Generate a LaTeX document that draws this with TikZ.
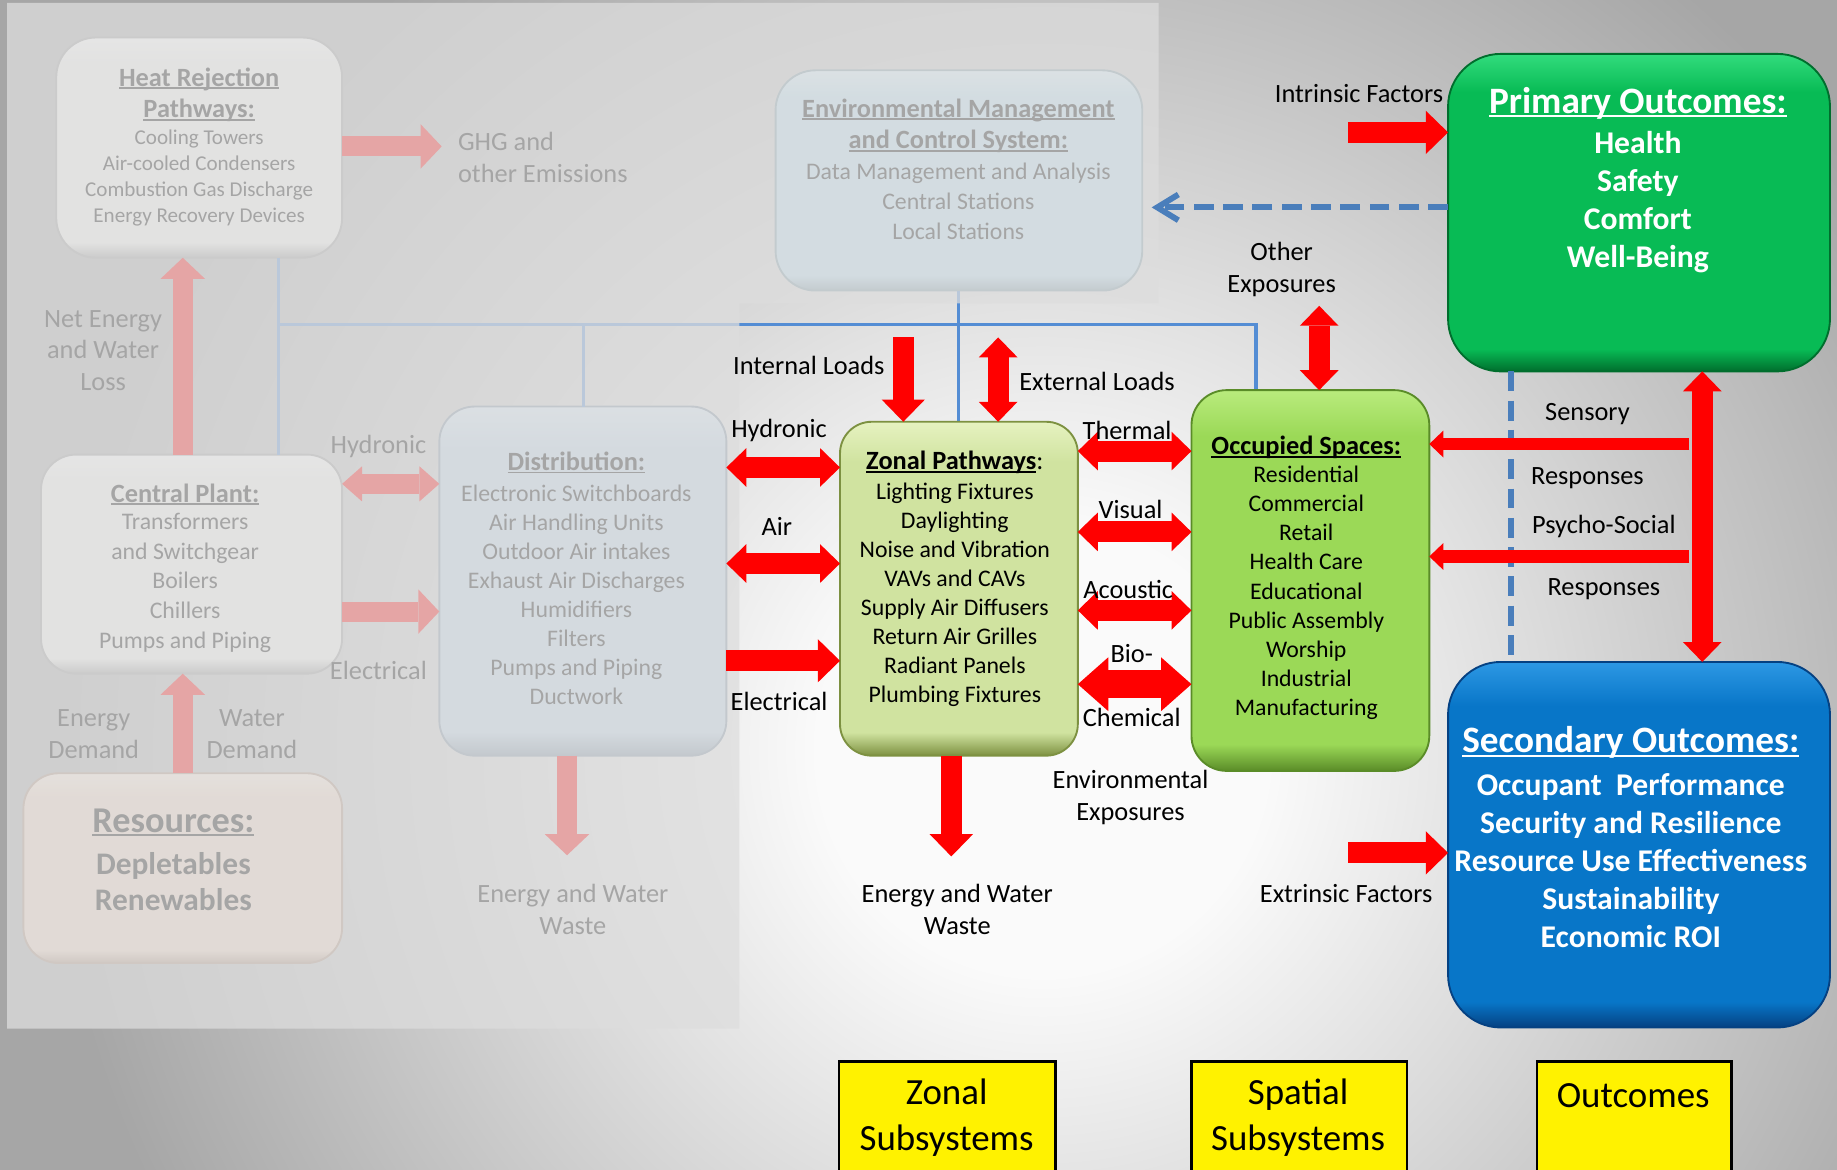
\documentclass[tikz,border=0pt]{standalone}
\usepackage{fontspec}
\setmainfont{Carlito}
\usetikzlibrary{arrows.meta}
\pgfdeclarelayer{bglayer}
\pgfdeclarelayer{fadelayer}
\pgfdeclarelayer{veillayer}
\pgfsetlayers{bglayer,fadelayer,veillayer,main}

\definecolor{redA}{RGB}{255,0,0}
\definecolor{blueL}{RGB}{84,141,212}
\definecolor{blueD}{RGB}{74,126,187}
\definecolor{ovl}{RGB}{221,221,221}
\definecolor{bgcA}{RGB}{250,250,250}
\definecolor{bgcB}{RGB}{166,166,166}
\definecolor{zonBase}{RGB}{208,227,160}
\definecolor{zonTop}{RGB}{230,242,192}
\definecolor{zonRim}{RGB}{125,145,65}
\definecolor{occBase}{RGB}{155,217,87}
\definecolor{occTop}{RGB}{185,235,125}
\definecolor{occRim}{RGB}{90,140,40}
\definecolor{priBase}{RGB}{8,187,85}
\definecolor{priTop}{RGB}{50,220,125}
\definecolor{priRim}{RGB}{0,110,45}
\definecolor{secBase}{RGB}{8,118,200}
\definecolor{secTop}{RGB}{45,152,228}
\definecolor{secRim}{RGB}{5,65,130}
\definecolor{grBase}{RGB}{242,242,238}
\definecolor{grTop}{RGB}{255,255,255}
\definecolor{grRim}{RGB}{150,150,150}
\definecolor{dsBase}{RGB}{188,212,232}
\definecolor{dsTop}{RGB}{215,232,246}
\definecolor{dsRim}{RGB}{120,140,160}
\definecolor{emBase}{RGB}{182,220,238}
\definecolor{emTop}{RGB}{215,238,250}
\definecolor{emRim}{RGB}{120,150,165}
\definecolor{rsBase}{RGB}{240,213,194}
\definecolor{rsTop}{RGB}{252,235,222}
\definecolor{rsRim}{RGB}{170,140,120}

\pgfdeclareradialshading{bgsh}{\pgfpoint{0bp}{0bp}}{color(0bp)=(bgcA); color(4bp)=(bgcA); color(17.7bp)=(bgcB); color(50bp)=(bgcB)}
\newcommand\mkbev[2]{\pgfdeclareverticalshading{#1}{100bp}{color(0bp)=(#2Rim); color(25bp)=(#2Rim); color(28.5bp)=(#2Base); color(69bp)=(#2Base); color(75bp)=(#2Top); color(100bp)=(#2Top)}}
\mkbev{shZon}{zon}
\mkbev{shOcc}{occ}
\mkbev{shPri}{pri}
\mkbev{shSec}{sec}
\mkbev{shGr}{gr}
\mkbev{shDs}{ds}
\mkbev{shEm}{em}
\mkbev{shRs}{rs}

\newcommand\fsLab{\fontsize{11.25pt}{13.5pt}\selectfont}
\newcommand\fsList{\fontsize{10.15pt}{12.4pt}\selectfont}
\newcommand\fsTtl{\fontsize{11.25pt}{13.5pt}\selectfont\bfseries}
\newcommand\fsSmall{\fontsize{9pt}{11pt}\selectfont}
\newcommand\fsOutT{\fontsize{15.9pt}{18pt}\selectfont\bfseries}
\newcommand\fsOutI{\fontsize{13.5pt}{16.3pt}\selectfont\bfseries}
\newcommand\fsYel{\fontsize{15.75pt}{19.5pt}\selectfont}
\newcommand\fsResT{\fontsize{15.5pt}{18pt}\selectfont\bfseries}
\newcommand\fsResI{\fontsize{13.4pt}{15.5pt}\selectfont\bfseries}
\newcommand\ulbox[1]{\setbox0\hbox{#1}\rlap{\rule[-0.11em]{\wd0}{0.065em}}\box0}

\begin{document}
\begin{tikzpicture}[x=0.5pt,y=-0.5pt,
  every node/.style={inner sep=0pt,outer sep=0pt},
  boxs/.style={rectangle, shade, line width=0.8pt},
  lab/.style={font=\fsLab, align=center, text=black},
  lst/.style={font=\fsList, align=center, text=black},
  ttl/.style={font=\fsTtl, align=center, text=black},
  wttl/.style={font=\fsOutT, align=center, text=white},
  witm/.style={font=\fsOutI, align=center, text=white},
  ylw/.style={rectangle, draw=black, fill=yellow, line width=1pt},
  yt/.style={font=\fsYel, align=center, text=black},
  rA/.style={draw=redA, line width=9pt, -{Triangle[length=9.5pt,width=18.5pt,line width=0pt]}},
  rD/.style={draw=redA, line width=9pt, {Triangle[length=8.5pt,width=16.5pt,line width=0pt]}-{Triangle[length=8.5pt,width=16.5pt,line width=0pt]}},
  rDb/.style={draw=redA, line width=12pt, {Triangle[length=13pt,width=23pt,line width=0pt]}-{Triangle[length=13pt,width=23pt,line width=0pt]}},
  rT/.style={draw=redA, line width=5.5pt, -{Triangle[length=6pt,width=11.5pt,line width=0pt]}},
  pA/.style={draw=redA, line width=8.5pt, -{Triangle[length=9pt,width=19pt,line width=0pt]}},
  pD/.style={draw=redA, line width=8.5pt, {Triangle[length=8.5pt,width=15pt,line width=0pt]}-{Triangle[length=8.5pt,width=15pt,line width=0pt]}},
  bln/.style={draw=blueL, line width=1.4pt},
  dsh/.style={draw=blueD, line width=2.5pt, dash pattern=on 8.5pt off 4pt}]

\useasboundingbox (0,0) rectangle (1568,998);

% ---------- background ----------
\begin{pgfonlayer}{bglayer}
\begin{scope}
\clip (0,0) rectangle (1568,998);
\shade[shading=bgsh] (890,640) circle (1200);
\end{scope}
\end{pgfonlayer}

% ---------- active part ----------
\node[boxs, shading=shZon, draw=zonRim, minimum width=101.5pt, minimum height=142.5pt, rounded corners=13.5pt] (zon) at (818.5,502.5) {};
\node[boxs, shading=shOcc, draw=occRim, minimum width=101.5pt, minimum height=162.5pt, rounded corners=15pt] (occ) at (1118.5,495.5) {};
\node[boxs, shading=shPri, draw=priRim, minimum width=163pt, minimum height=135.5pt, rounded corners=22.5pt] (prim) at (1399,181.5) {};
\node[boxs, shading=shSec, draw=secRim, minimum width=163pt, minimum height=156pt, rounded corners=22.5pt] (sec) at (1399,721) {};

\node[lab] (zonT) at (815,395) {{\bfseries\ulbox{Zonal Pathways}}:};
\node[lst] (zonL) at (815,507.5) {Lighting Fixtures\\Daylighting\\Noise and Vibration\\VAVs and CAVs\\Supply Air Diffusers\\Return Air Grilles\\Radiant Panels\\Plumbing Fixtures};
\node[ttl] (occT) at (1115,382) {\ulbox{Occupied Spaces:}};
\node[lst] (occL) at (1115,506) {Residential\\Commercial\\Retail\\Health Care\\Educational\\Public Assembly\\Worship\\Industrial\\Manufacturing};
\node[wttl] (priT) at (1398,88) {\ulbox{Primary Outcomes:}};
\node[witm] (priL) at (1398,172.5) {Health\\Safety\\Comfort\\Well-Being};
\node[wttl] (secT) at (1392,634) {\ulbox{Secondary Outcomes:}};
\node[witm] (secL) at (1392,734.5) {Occupant~~Performance\\Security and Resilience\\Resource Use Effectiveness\\Sustainability\\Economic ROI};

\node[ylw, minimum width=92.5pt, minimum height=52pt] (yz) at (808.5,958) {};
\node[ylw, minimum width=92pt, minimum height=52pt] (ys) at (1109,958) {};
\node[ylw, minimum width=83pt, minimum height=52pt] (yo) at (1395,958) {};
\node[yt] (yzT) at (808,954) {Zonal\\Subsystems};
\node[yt] (ysT) at (1108,954) {Spatial\\Subsystems};
\node[yt] (yoT) at (1394,935) {Outcomes};

% ---------- faded part ----------
\begin{pgfonlayer}{fadelayer}
\node[boxs, shading=shGr, draw=grRim, minimum width=122pt, minimum height=94pt, rounded corners=17pt] (hr) at (170,126) {};
\node[boxs, shading=shGr, draw=grRim, minimum width=128.5pt, minimum height=93.5pt, rounded corners=15pt] (cp) at (163.5,481.5) {};
\node[boxs, shading=shDs, draw=dsRim, minimum width=122.5pt, minimum height=149pt, rounded corners=15pt] (dist) at (497.5,496) {};
\node[boxs, shading=shRs, draw=rsRim, minimum width=136pt, minimum height=81pt, rounded corners=15pt] (res) at (156,741) {};
\node[boxs, shading=shEm, draw=emRim, minimum width=156.5pt, minimum height=94pt, rounded corners=17pt] (emcs) at (818.5,154) {};

\node[ttl] (hrT) at (170,81) {\ulbox{Heat Rejection}\\\ulbox{Pathways:}};
\node[font=\fsSmall, align=center] (hrL) at (170,152) {Cooling Towers\\Air-cooled Condensers\\Combustion Gas Discharge\\Energy Recovery Devices};
\node[ttl] (cpT) at (158,422) {\ulbox{Central Plant:}};
\node[lst, font=\fontsize{10.15pt}{12.6pt}\selectfont] (cpL) at (158,497.5) {Transformers\\and Switchgear\\Boilers\\Chillers\\Pumps and Piping};
\node[ttl] (distT) at (492,395) {\ulbox{Distribution:}};
\node[lst] (distL) at (492,507.5) {Electronic Switchboards\\Air Handling Units\\Outdoor Air intakes\\Exhaust Air Discharges\\Humidifiers\\Filters\\Pumps and Piping\\Ductwork};
\node[font=\fsResT, align=center] (resT) at (148,702) {\ulbox{Resources:}};
\node[font=\fsResI, align=center] (resL) at (148,752.5) {Depletables\\Renewables};
\node[ttl] (emT) at (818,107.5) {\ulbox{Environmental Management}\\\ulbox{and Control System:}};
\node[lst, font=\fontsize{10.15pt}{12.75pt}\selectfont] (emL) at (818,172) {Data Management and Analysis\\Central Stations\\Local Stations};

\node[lab, align=left, anchor=west] (ghg) at (391,134.5) {GHG and\\other Emissions};
\node[lab] (net) at (88,299) {Net Energy\\and Water\\Loss};
\node[lab] (ed) at (80,626.5) {Energy\\Demand};
\node[lab] (wd) at (215,626.5) {Water\\Demand};
\node[lab] (hydF) at (323,381) {Hydronic};
\node[lab] (elF) at (323,572) {Electrical};
\node[lab] (wstF) at (489,776.5) {Energy and Water\\Waste};

\coordinate (ghgA) at (377,125);
\coordinate (vx) at (156,0);
\coordinate (yh) at (0,413);
\coordinate (ye) at (0,522);
\coordinate (wF) at (484,730);
\draw[pA] (hr.east |- ghgA) -- (ghgA);
\draw[pA] (cp.north -| vx) -- (hr.south -| vx);
\draw[pA] (res.north -| vx) -- (cp.south -| vx);
\draw[pD] (cp.east |- yh) -- (dist.west |- yh);
\draw[pA] (cp.east |- ye) -- (dist.west |- ye);
\draw[pA] (dist.south -| wF) -- (wF);

% blue control lines
\coordinate (j1) at (238,277);
\coordinate (j2) at (1072,277);
\coordinate (jd) at (498,277);
\coordinate (je) at (818,277);
\draw[bln] (hr.south -| j1) -- (cp.north -| j1);
\draw[bln] (j1) -- (j2) -- (occ.north -| j2);
\draw[bln] (jd) -- (dist.north -| jd);
\draw[bln] (emcs.south -| je) -- (zon.north -| je);
\end{pgfonlayer}

% ---------- veil ----------
\begin{pgfonlayer}{veillayer}
\fill[ovl, fill opacity=0.75] (6,2.5) -- (989,2.5) -- (989,259) -- (631,259) -- (631,878) -- (6,878) -- cycle;
\end{pgfonlayer}

% ---------- dashed feedback lines ----------
\coordinate (dy) at (0,177);
\coordinate (dx) at (1290,0);
\draw[dsh, shorten >=4pt, -{Straight Barb[length=9pt,width=11pt]}] (prim.west |- dy) -- (emcs.east |- dy);
\draw[dsh, shorten >=2.5pt] (prim.south -| dx) -- (sec.north -| dx);

% ---------- red arrows ----------
\coordinate (iL) at (771,288);
\coordinate (eL) at (852,288);
\coordinate (yHy) at (0,399);
\coordinate (yAi) at (0,481);
\coordinate (yEl) at (0,564);
\coordinate (yTh) at (0,385);
\coordinate (yVi) at (0,454);
\coordinate (yAc) at (0,521);
\coordinate (yBi) at (0,584);
\coordinate (wZ) at (812,731);
\coordinate (oE) at (1126,261);
\coordinate (inF) at (1151,113);
\coordinate (exF) at (1151,728);
\coordinate (sR) at (1442,379);
\coordinate (pR) at (1442,475);
\coordinate (bx) at (1453,0);

\draw[rA] (iL) -- (zon.north -| iL);
\draw[rD] (eL) -- (zon.north -| eL);
\draw[rD] (dist.east |- yHy) -- (zon.west |- yHy);
\draw[rD] (dist.east |- yAi) -- (zon.west |- yAi);
\draw[rA] (dist.east |- yEl) -- (zon.west |- yEl);
\draw[rD] (zon.east |- yTh) -- (occ.west |- yTh);
\draw[rD] (zon.east |- yVi) -- (occ.west |- yVi);
\draw[rD] (zon.east |- yAc) -- (occ.west |- yAc);
\draw[rDb] (zon.east |- yBi) -- (occ.west |- yBi);
\draw[rA] (zon.south -| wZ) -- (wZ);
\draw[rD] (oE) -- (occ.north -| oE);
\draw[rA] (inF) -- (prim.west |- inF);
\draw[rA] (exF) -- (sec.west |- exF);
\draw[rT] (sR) -- (occ.east |- sR);
\draw[rT] (pR) -- (occ.east |- pR);
\draw[rD] (prim.south -| bx) -- (sec.north -| bx);

% ---------- labels ----------
\node[lab, anchor=east] (lIL) at (755,312) {Internal Loads};
\node[lab, anchor=west] (lEL) at (870,326) {External Loads};
\node[lab] (lHy) at (665,367) {Hydronic};
\node[lab] (lAi) at (663,449) {Air};
\node[lab] (lEl) at (665,599) {Electrical};
\node[lab] (lTh) at (962,367) {Thermal};
\node[lab] (lVi) at (965,435) {Visual};
\node[lab] (lAc) at (963,503) {Acoustic};
\node[lab] (lBi) at (966,558) {Bio-};
\node[lab] (lCh) at (966,612) {Chemical};
\node[lab] (lEE) at (965,680.5) {Environmental\\Exposures};
\node[lab] (lWs) at (817,776.5) {Energy and Water\\Waste};
\node[lab] (lOE) at (1094,230) {Other\\Exposures};
\node[lab] (lIF) at (1160,80) {Intrinsic Factors};
\node[lab] (lXF) at (1149,763) {Extrinsic Factors};
\node[lab] (lSe) at (1355,353) {Sensory};
\node[lab] (lR1) at (1355,408) {Responses};
\node[lab] (lPs) at (1369,449) {Psycho-Social};
\node[lab] (lR2) at (1369,503) {Responses};
\end{tikzpicture}
\end{document}
